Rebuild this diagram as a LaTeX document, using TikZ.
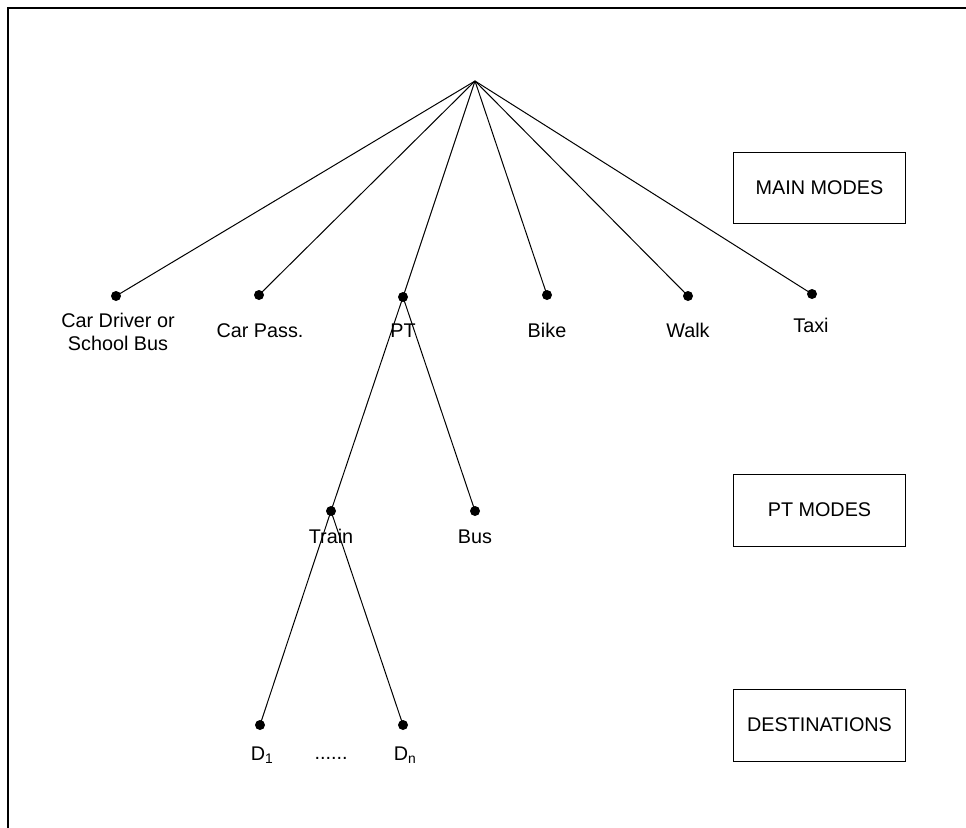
\documentclass[tikz,border=0pt]{standalone}
\usepackage{fontspec}
\setmainfont{Liberation Sans}
\begin{document}
\begin{tikzpicture}[x=1pt,y=-1pt,
  every node/.style={font=\fontsize{19.8}{23}\selectfont},
  dot/.style={circle,fill=black,inner sep=0pt,minimum size=10pt},
  lbl/.style={anchor=base,inner sep=0pt},
  legend/.style={draw=black,line width=1pt,minimum width=172pt,inner sep=0pt},
  edge/.style={line width=1pt}]
\useasboundingbox (0,0) rectangle (966,827);
\clip (0,0) rectangle (966,827);
\fill[white] (0,0) rectangle (966,827);
\draw[line width=1.8pt] (8,8) rectangle (990,850);

\coordinate (root) at (475,81);
% main modes
\node[dot] (cd) at (116,296) {};
\node[dot] (cp) at (259,295) {};
\node[dot] (pt) at (403,297) {};
\node[dot] (bk) at (547,295) {};
\node[dot] (wk) at (688,296) {};
\node[dot] (tx) at (812,294) {};
% pt modes
\node[dot] (tr) at (331,511) {};
\node[dot] (bs) at (475,511) {};
% destinations
\node[dot] (d1) at (260,725) {};
\node[dot] (dn) at (403,725) {};

% labels
\node[lbl] (lcd1) at (118,327) {Car Driver or};
\node[lbl] (lcd2) at (118,350) {School Bus};
\node[lbl] (lcp) at (260,337) {Car Pass.};
\node[lbl] (lpt) at (403,337) {PT};
\node[lbl] (lbk) at (547,337) {Bike};
\node[lbl] (lwk) at (688,337) {Walk};
\node[lbl] (ltx) at (811,332) {Taxi};
\node[lbl] (ltr) at (331,543) {Train};
\node[lbl] (lbs) at (475,543) {Bus};
\node[lbl] (ld1) at (262,760) {D\textsubscript{1}};
\node[lbl] (ldn) at (405,760) {D\textsubscript{n}};
\node[lbl] (ldots) at (331,759) {......};

% connectors
\foreach \t in {cd,cp,pt,bk,wk,tx} \draw[edge] (root) -- (\t.center);
\foreach \t in {tr,bs} \draw[edge] (pt.center) -- (\t.center);
\foreach \t in {d1,dn} \draw[edge] (tr.center) -- (\t.center);

% legend boxes
\node[legend,minimum height=71pt] (bmain) at (819.5,187.5) {MAIN MODES};
\node[legend,minimum height=72pt] (bpt) at (819.5,510) {PT MODES};
\node[legend,minimum height=72pt] (bdest) at (819.5,725) {DESTINATIONS};
\end{tikzpicture}
\end{document}
